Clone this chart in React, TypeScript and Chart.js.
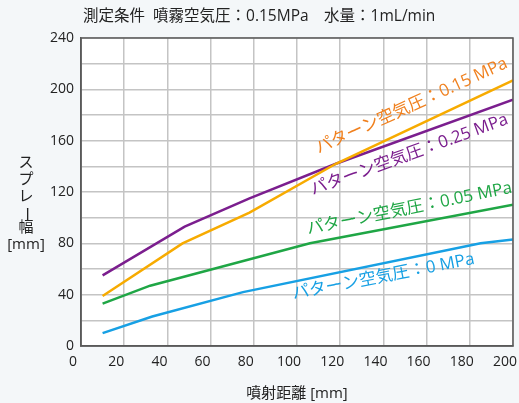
import React, { useEffect, useRef } from 'react';
import { Chart, registerables } from 'chart.js';
Chart.register(...registerables);

const FONT = "'Open Sans', 'Noto Sans CJK JP', sans-serif";

const chartTitle = '測定条件  噴霧空気圧：0.15MPa　水量：1mL/min';
const xTitle = '噴射距離 [mm]';
const yTitleParts = ['ス', 'プ', 'レ', 'ー', '幅', '[mm]'];

const seriesNames = [
  'パターン空気圧：0 MPa',
  'パターン空気圧：0.05 MPa',
  'パターン空気圧：0.15 MPa',
  'パターン空気圧：0.25 MPa',
];

// spray distance (mm) / spray width (mm)
const x0 = [10, 33, 75, 185, 200];
const y0 = [10, 23, 42, 80, 83];
const x005 = [10, 32, 106, 200];
const y005 = [33, 47, 80, 110];
const x015 = [10, 47, 78, 118, 200];
const y015 = [39, 80, 104, 142, 207];
const x025 = [10, 48, 78, 118, 200];
const y025 = [55, 93, 115, 142, 192];

const xTicks = [0, 20, 40, 60, 80, 100, 120, 140, 160, 180, 200];
const yTicks = [0, 40, 80, 120, 160, 200, 240];

const lineColors = ['#17a0e4', '#1fa645', '#f7ab00', '#7b1e8e'];
const textColors = ['#17a0e4', '#1fa645', '#f0801e', '#7b1e8e'];
// label anchor (data units) and rotation (deg)
const labelX = [140, 152, 153, 152];
const labelY = [54, 107, 187, 149];
const labelAngle = [-11, -11.5, -24.5, -20];

const toPts = (xs: number[], ys: number[]) => xs.map((x, i) => ({ x, y: ys[i] }));

export default function App() {
  const ref = useRef<HTMLCanvasElement | null>(null);
  useEffect(() => {
    if (!ref.current) return;
    const deco = {
      id: 'deco',
      beforeDraw(chart: any) {
        const { ctx, chartArea: a, width, height } = chart;
        ctx.save();
        ctx.fillStyle = '#f4f7f9';
        ctx.fillRect(0, 0, width, height);
        ctx.fillStyle = '#ffffff';
        ctx.fillRect(a.left, a.top, a.right - a.left, a.bottom - a.top);
        ctx.restore();
      },
      afterDraw(chart: any) {
        const { ctx, chartArea: a, scales } = chart;
        ctx.save();
        ctx.strokeStyle = '#5a5a5a';
        ctx.lineWidth = 1.5;
        ctx.strokeRect(a.left, a.top, a.right - a.left, a.bottom - a.top);
        // title
        ctx.fillStyle = '#222';
        ctx.font = `15.5px ${FONT}`;
        ctx.textAlign = 'left';
        ctx.textBaseline = 'middle';
        ctx.fillText(chartTitle, 83, 17);
        // x title
        ctx.font = `15px ${FONT}`;
        ctx.textAlign = 'center';
        ctx.fillText(xTitle, (a.left + a.right) / 2, 394);
        // y title (vertical)
        const yc = [163, 180, 197, 214, 228, 245];
        yTitleParts.forEach((t, i) => {
          ctx.save();
          ctx.translate(26, yc[i]);
          if (t === 'ー') ctx.rotate(Math.PI / 2);
          ctx.font = `15px ${FONT}`;
          ctx.fillText(t, 0, 0);
          ctx.restore();
        });
        // series labels
        seriesNames.forEach((name, i) => {
          const px = scales.x.getPixelForValue(labelX[i]);
          const py = scales.y.getPixelForValue(labelY[i]);
          ctx.save();
          ctx.translate(px, py);
          ctx.rotate((labelAngle[i] * Math.PI) / 180);
          ctx.fillStyle = textColors[i];
          ctx.font = `17px ${FONT}`;
          ctx.textAlign = 'center';
          ctx.textBaseline = 'middle';
          ctx.fillText(name, 0, 0);
          ctx.restore();
        });
        ctx.restore();
      },
    };
    const chart = new Chart(ref.current, {
      type: 'scatter',
      data: {
        datasets: [
          { label: seriesNames[0], data: toPts(x0, y0) },
          { label: seriesNames[1], data: toPts(x005, y005) },
          { label: seriesNames[2], data: toPts(x015, y015) },
          { label: seriesNames[3], data: toPts(x025, y025) },
        ].map((d, i) => ({
          ...d,
          showLine: true,
          borderColor: lineColors[i],
          backgroundColor: lineColors[i],
          borderWidth: 2.5,
          pointRadius: 0,
          tension: 0,
        })),
      },
      options: {
        animation: false,
        responsive: false,
        devicePixelRatio: 1,
        layout: { padding: { top: 38, right: 6, left: 0, bottom: 0 } },
        plugins: { legend: { display: false }, tooltip: { enabled: false }, title: { display: false } },
        scales: {
          x: {
            type: 'linear',
            min: 0,
            max: 200,
            afterBuildTicks: (s: any) => {
              s.ticks = xTicks.map((v) => ({ value: v }));
            },
            afterFit: (s: any) => {
              s.height = 57;
              s.paddingLeft = 0;
              s.paddingRight = 0;
            },
            grid: { color: '#c4c4c4', lineWidth: 1.5, drawTicks: false },
            border: { color: '#5a5a5a', width: 1.5 },
            ticks: {
              padding: 8,
              labelOffset: -8,
              color: '#222',
              font: { family: FONT, size: 14 },
              maxRotation: 0,
              autoSkip: false,
            },
          },
          y: {
            type: 'linear',
            min: 0,
            max: 240,
            afterBuildTicks: (s: any) => {
              const arr: any[] = [];
              for (let v = 0; v <= 240; v += 20) arr.push({ value: v });
              s.ticks = arr;
            },
            afterFit: (s: any) => {
              s.width = 81;
              s.paddingTop = 0;
              s.paddingBottom = 0;
            },
            grid: { color: '#c4c4c4', lineWidth: 1.5, drawTicks: false },
            border: { color: '#5a5a5a', width: 1.5 },
            ticks: {
              padding: 7,
              color: '#222',
              font: { family: FONT, size: 14 },
              autoSkip: false,
              callback: (v: any) => (yTicks.includes(Number(v)) ? String(v) : ''),
            },
          },
        },
      },
      plugins: [deco],
    } as any);
    return () => chart.destroy();
  }, []);
  return (
    <div style={{ position: 'fixed', left: 0, top: 0, width: 519, height: 403 }}>
      <canvas ref={ref} width={519} height={403} style={{ width: 519, height: 403 }} />
    </div>
  );
}
